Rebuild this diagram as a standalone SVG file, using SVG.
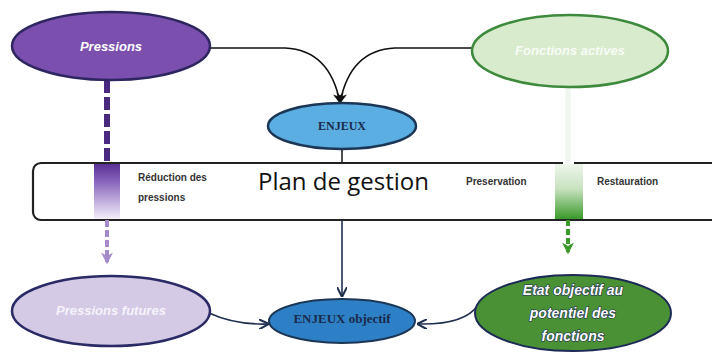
<svg xmlns="http://www.w3.org/2000/svg" width="712" height="352" viewBox="0 0 712 352">
<defs>
<marker id="ah" viewBox="0 0 10 10" refX="9" refY="5" markerWidth="11" markerHeight="11" orient="auto" markerUnits="userSpaceOnUse">
<path d="M0,0 L10,5 L0,10 L3,5 z" fill="#111"/>
</marker>
<marker id="ahn" viewBox="0 0 10 10" refX="9" refY="5" markerWidth="10" markerHeight="10" orient="auto" markerUnits="userSpaceOnUse">
<path d="M0,0 L10,5 L0,10" fill="none" stroke="#1f2f4f" stroke-width="2"/>
</marker>
<marker id="ahp" viewBox="0 0 10 10" refX="8" refY="5" markerWidth="12" markerHeight="12" orient="auto" markerUnits="userSpaceOnUse">
<path d="M0,0 L10,5 L0,10 L3,5 z" fill="#a58acc"/>
</marker>
<marker id="ahg" viewBox="0 0 10 10" refX="8" refY="5" markerWidth="12" markerHeight="12" orient="auto" markerUnits="userSpaceOnUse">
<path d="M0,0 L10,5 L0,10 L3,5 z" fill="#3c9a2a"/>
</marker>
<linearGradient id="gp" x1="0" y1="0" x2="0" y2="1">
<stop offset="0" stop-color="#5a2f95"/>
<stop offset="0.35" stop-color="#8d6bc0"/>
<stop offset="1" stop-color="#f4effa"/>
</linearGradient>
<linearGradient id="gg" x1="0" y1="0" x2="0" y2="1">
<stop offset="0" stop-color="#eef6ec"/>
<stop offset="0.45" stop-color="#c8e2c0"/>
<stop offset="1" stop-color="#3a9a2a"/>
</linearGradient>
</defs>
<style>
.lbl{font-family:"Liberation Sans",Arial,sans-serif;font-style:italic;font-weight:bold;fill:#fff}
.ser{font-family:"Liberation Serif","Times New Roman",serif;font-weight:bold;fill:#1b2a4a}
.sm{font-family:"Liberation Sans",Arial,sans-serif;font-size:10px;font-weight:bold;fill:#333}
.big{font-family:"Open Sans","Noto Sans",sans-serif;font-size:24px;fill:#111}
.conn{fill:none;stroke:#111;stroke-width:1.6}
.connb{fill:none;stroke:#1f2f4f;stroke-width:1.6}
</style>
<rect width="712" height="352" fill="#fff"/>

<g id="plan">
<rect x="33" y="163" width="700" height="57" rx="8" fill="#fff" stroke="#222" stroke-width="2.2"/>
<line x1="563" y1="163" x2="574" y2="163" stroke="#fff" stroke-width="4"/>
<text class="big" x="258" y="190">Plan de gestion</text>
<text class="sm" x="138" y="181">Réduction des</text>
<text class="sm" x="138" y="201">pressions</text>
<text class="sm" x="466" y="185">Preservation</text>
<text class="sm" x="597" y="185">Restauration</text>
<rect x="94" y="164" width="26" height="55" fill="url(#gp)"/>
<rect x="555" y="164" width="28" height="55" fill="url(#gg)"/>
</g>

<g id="connectors">
<path class="conn" d="M210,48 L285,48 Q330,50 340,103" marker-end="url(#ah)"/>
<path class="conn" d="M472,48 L395,48 Q350,50 340,103" marker-end="url(#ah)"/>
<line x1="342" y1="149" x2="342" y2="163" stroke="#222" stroke-width="1.6"/>
<line x1="342" y1="220" x2="342" y2="296" class="connb" marker-end="url(#ahn)"/>
<line x1="107" y1="80" x2="107" y2="163" stroke="#4a2a80" stroke-width="6" stroke-dasharray="13,4"/>
<line x1="107" y1="220" x2="107" y2="262" stroke="#a58acc" stroke-width="4" stroke-dasharray="7,3" marker-end="url(#ahp)"/>
<line x1="568" y1="88" x2="568" y2="163" stroke="#f1f5f0" stroke-width="5"/>
<line x1="568" y1="220" x2="568" y2="252" stroke="#3c9a2a" stroke-width="4" stroke-dasharray="6,3" marker-end="url(#ahg)"/>
<path class="connb" d="M209,313 Q235,325 268,324" marker-end="url(#ahn)"/>
<path class="connb" d="M478,305 Q465,325 418,324" marker-end="url(#ahn)"/>
</g>

<g id="pressions">
<ellipse cx="111" cy="46" rx="99" ry="34" fill="#7a4fae" stroke="#2e2660" stroke-width="2.5"/>
<text class="lbl" x="111" y="51" font-size="13" text-anchor="middle">Pressions</text>
</g>

<g id="fonctions-actives">
<ellipse cx="570" cy="51" rx="98" ry="36" fill="#d8ebcc" stroke="#3d8a3d" stroke-width="2.5"/>
<text class="lbl" x="570" y="55" font-size="13" text-anchor="middle" fill-opacity="0.85">Fonctions actives</text>
</g>

<g id="enjeux">
<ellipse cx="342" cy="126" rx="74" ry="23" fill="#5aaee2" stroke="#1c3656" stroke-width="2.5"/>
<text class="ser" x="342" y="130" font-size="12" text-anchor="middle">ENJEUX</text>
</g>

<g id="pressions-futures">
<ellipse cx="111" cy="311" rx="99" ry="35" fill="#d4cae6" stroke="#2a2a66" stroke-width="2.5"/>
<text class="lbl" x="111" y="315" font-size="13" text-anchor="middle" fill-opacity="0.8">Pressions futures</text>
</g>

<g id="enjeux-objectif">
<ellipse cx="342" cy="321" rx="73" ry="22" fill="#2d80c6" stroke="#1c3656" stroke-width="2"/>
<text class="ser" x="342" y="323" font-size="13" text-anchor="middle">ENJEUX objectif</text>
</g>

<g id="etat-objectif">
<ellipse cx="573" cy="313" rx="98" ry="38" fill="#4a9034" stroke="#1c2a56" stroke-width="2"/>
<g class="lbl" font-size="14" text-anchor="middle" style="paint-order:stroke" stroke="#1c2a56" stroke-width="1.2">
<text x="573" y="295">Etat objectif au</text>
<text x="573" y="318">potentiel des</text>
<text x="573" y="341">fonctions</text>
</g>
</g>
</svg>
